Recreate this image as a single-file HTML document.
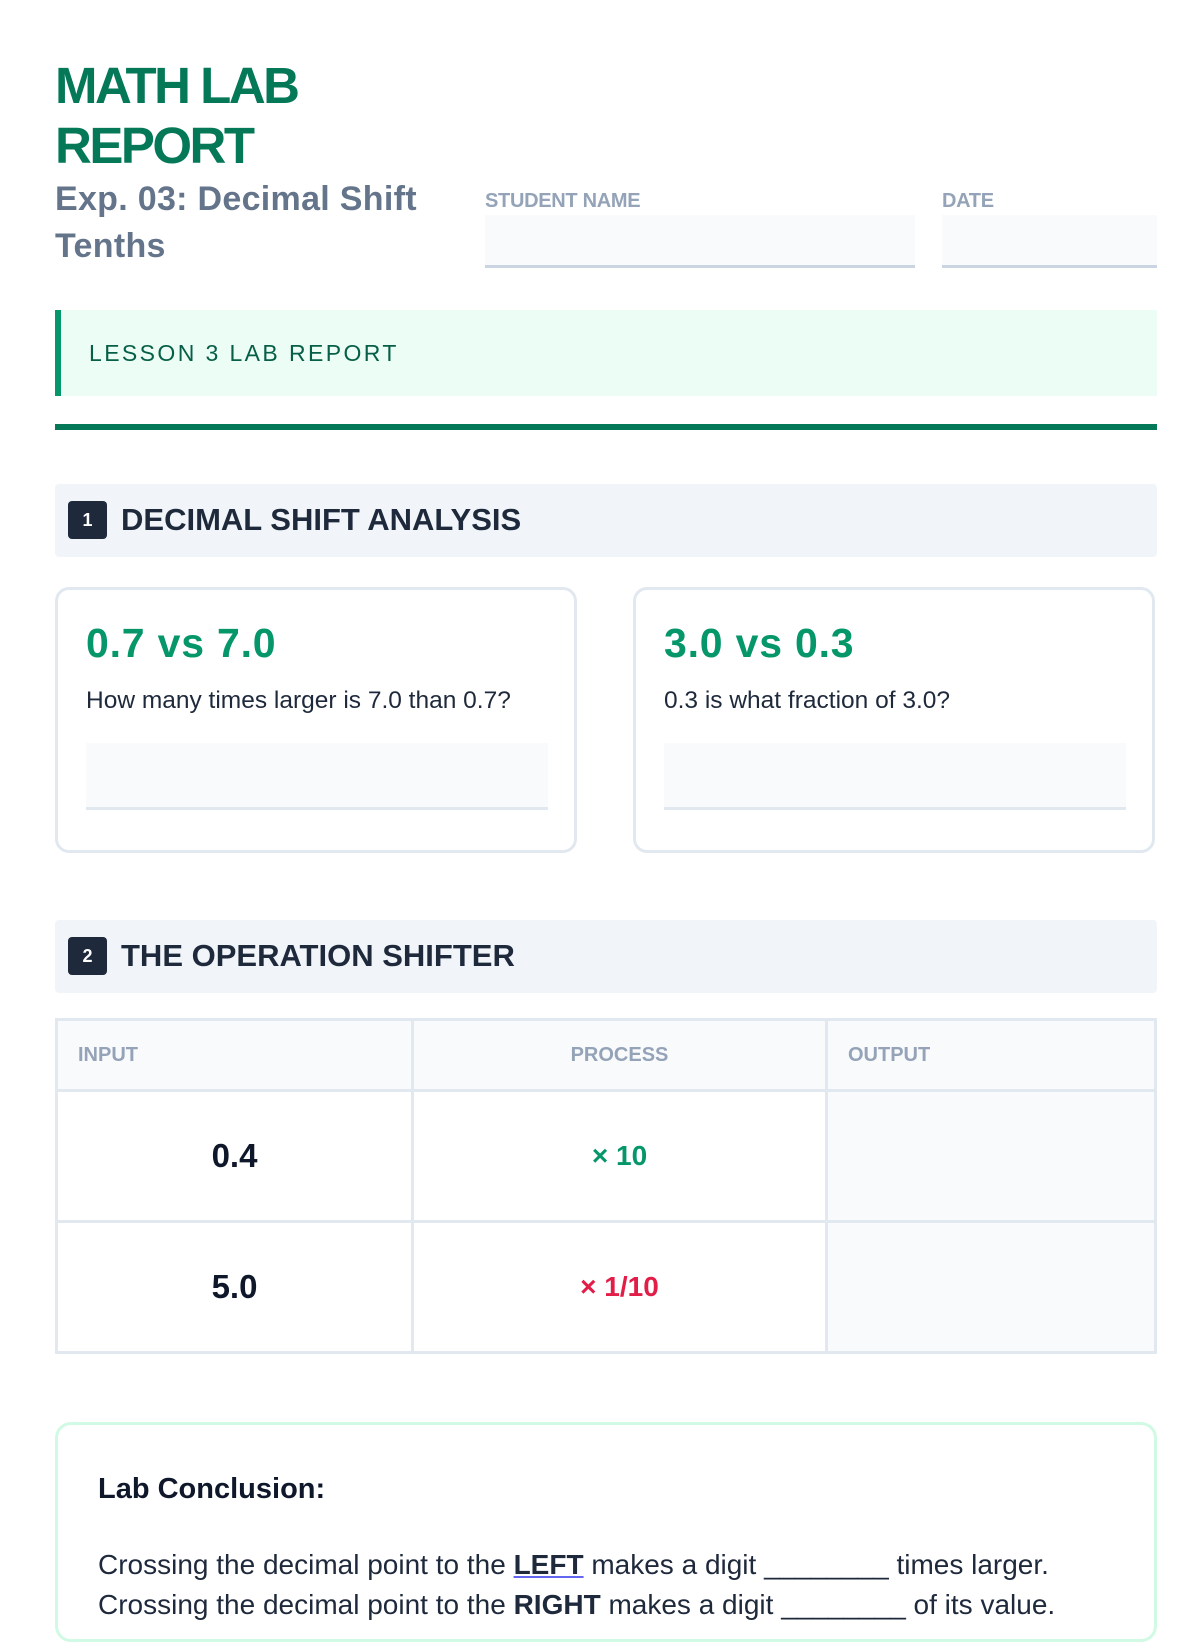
<!DOCTYPE html>
<html><head><meta charset="utf-8"><style>
*{box-sizing:border-box;margin:0;padding:0}
body{width:1200px;height:1600px;overflow:hidden;background:#fff;font-family:"Liberation Sans",sans-serif;position:relative;color:#1e293b}
.a{position:absolute}
.title{left:55px;top:56px;font-size:51px;font-weight:bold;color:#047857;line-height:60px;letter-spacing:-2.5px}
.sub{left:55px;top:176px;font-size:34px;font-weight:bold;color:#64748b;line-height:47px;letter-spacing:0.3px}
.lbl{font-size:20px;font-weight:bold;color:#94a3b8;letter-spacing:-0.3px}
.field{background:#f8fafc;border-bottom:3px solid #cbd5e1}
.banner{left:55px;top:310px;width:1102px;height:86px;background:#ecfdf5;border-left:6px solid #059669}
.banner span{position:absolute;left:28px;top:30px;font-size:23px;color:#065f46;letter-spacing:2.4px}
.rule{left:55px;top:424px;width:1102px;height:6px;background:#047857}
.sec{left:55px;width:1102px;height:73px;background:#f1f5f9;border-radius:4px}
.badge{position:absolute;left:13px;top:17px;width:39px;height:38px;background:#1e293b;color:#fff;border-radius:4px;font-size:18px;font-weight:bold;text-align:center;line-height:38px}
.sec b{position:absolute;left:66px;top:18px;font-size:31px;color:#1e293b;letter-spacing:0px}
.card{top:587px;width:522px;height:266px;border:3px solid #e2e8f0;border-radius:14px}
.card h2{position:absolute;left:28px;top:30px;font-size:41px;color:#059669;letter-spacing:0.8px}
.card p{position:absolute;left:28px;top:97px;font-size:24.5px;color:#1e293b}
.card .ans{position:absolute;left:28px;top:153px;width:462px;height:67px;background:#f8fafc;border-bottom:3px solid #e2e8f0}
table{position:absolute;left:55px;top:1018px;width:1102px;border-collapse:collapse}
td,th{border:3px solid #e2e8f0}
th{height:71px;background:#f8fafc;font-size:20px;color:#94a3b8;text-align:left;padding-left:20px}
td{height:131px;text-align:center;font-weight:bold}
.conc{left:55px;top:1422px;width:1102px;height:220px;border:3px solid #d1fae5;border-radius:16px}
</style></head><body>
<div class="a title">MATH LAB<br>REPORT</div>
<div class="a sub">Exp. 03: Decimal Shift<br>Tenths</div>
<div class="a lbl" style="left:485px;top:190px">STUDENT NAME</div>
<div class="a field" style="left:485px;top:215px;width:430px;height:53px"></div>
<div class="a lbl" style="left:942px;top:190px">DATE</div>
<div class="a field" style="left:942px;top:215px;width:215px;height:53px"></div>
<div class="a banner"><span>LESSON 3 LAB REPORT</span></div>
<div class="a rule"></div>
<div class="a sec" style="top:484px"><div class="badge">1</div><b>DECIMAL SHIFT ANALYSIS</b></div>
<div class="a card" style="left:55px"><h2>0.7 vs 7.0</h2><p>How many times larger is 7.0 than 0.7?</p><div class="ans"></div></div>
<div class="a card" style="left:633px"><h2>3.0 vs 0.3</h2><p>0.3 is what fraction of 3.0?</p><div class="ans"></div></div>
<div class="a sec" style="top:920px"><div class="badge">2</div><b>THE OPERATION SHIFTER</b></div>
<table>
<tr><th style="width:356px">INPUT</th><th style="width:414px;text-align:center;padding:0">PROCESS</th><th>OUTPUT</th></tr>
<tr><td style="font-size:33px;color:#0f172a">0.4</td><td style="font-size:28px;color:#059669">× 10</td><td style="background:#f8fafc"></td></tr>
<tr><td style="font-size:33px;color:#0f172a">5.0</td><td style="font-size:28px;color:#e11d48">× 1/10</td><td style="background:#f8fafc"></td></tr>
</table>
<div class="conc a">
<div class="a" style="left:40px;top:48px;font-size:29px;font-weight:bold;color:#0f172a">Lab Conclusion:</div>
<div class="a" style="left:40px;top:120px;font-size:28px;line-height:40px;color:#1e293b;white-space:nowrap">Crossing the decimal point to the <b style="text-decoration:underline;text-decoration-color:#6366f1">LEFT</b> makes a digit ________ times larger.<br>Crossing the decimal point to the <b>RIGHT</b> makes a digit ________ of its value.</div>
</div>
</body></html>
